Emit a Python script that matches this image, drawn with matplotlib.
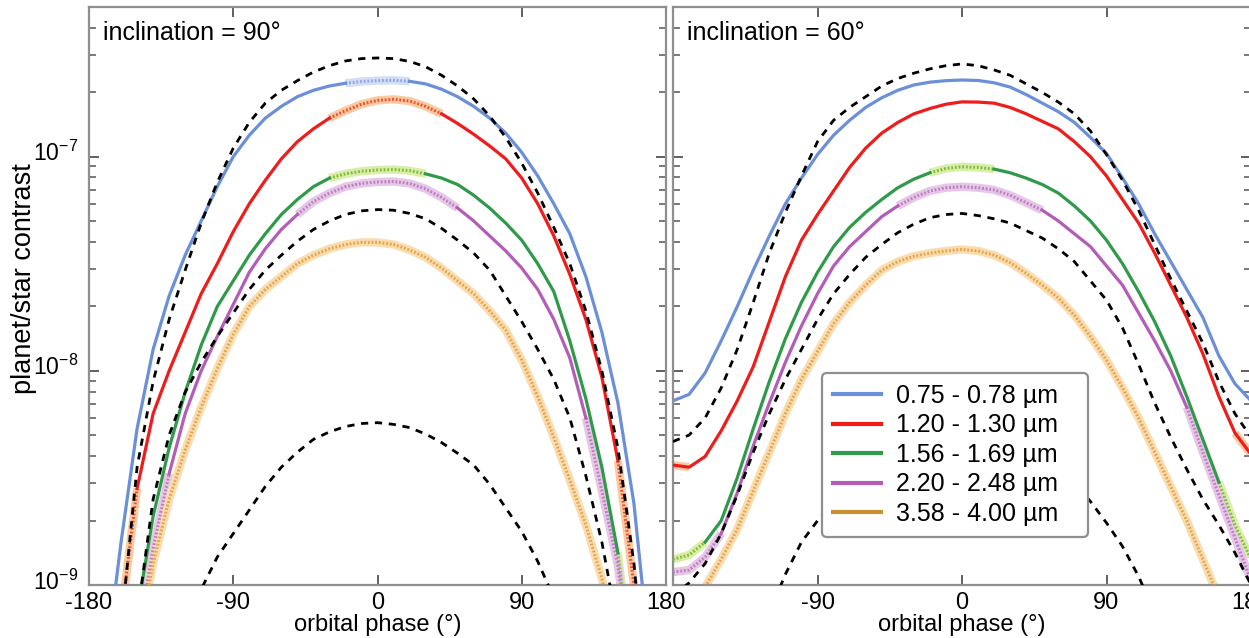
import numpy as np
import matplotlib
matplotlib.use("Agg")
import matplotlib.pyplot as plt
from matplotlib.lines import Line2D
from matplotlib.ticker import LogLocator, FixedLocator
from matplotlib.transforms import ScaledTranslation

plt.rcParams['font.family'] = ['Liberation Sans', 'DejaVu Sans']
plt.rcParams['mathtext.fontset'] = 'custom'
plt.rcParams['mathtext.rm'] = 'Liberation Sans'
plt.rcParams['mathtext.it'] = 'Liberation Sans'

# orbital phase (deg) at which the curves were read
phase = np.array([-180, -170, -160, -150, -140, -130, -120, -110, -100, -90, -80, -70, -60, -50, -40, -30, -20, -10, 0,
                  10, 20, 30, 40, 50, 60, 70, 80, 90, 100, 110, 120, 130, 140, 150, 160, 170, 180])

bands = ['0.75 - 0.78 µm', '1.20 - 1.30 µm', '1.56 - 1.69 µm', '2.20 - 2.48 µm', '3.58 - 4.00 µm']

# log10(planet/star contrast), inclination = 90 deg
i90_b1 = [-11, -9.4, -8.8, -8.27, -7.9, -7.65, -7.46, -7.3, -7.14, -7.0, -6.9, -6.82, -6.765, -6.72, -6.69, -6.67,
          -6.657, -6.649, -6.645, -6.643, -6.648, -6.66, -6.685, -6.72, -6.765, -6.82, -6.89, -6.98, -7.09, -7.22,
          -7.36, -7.56, -7.82, -8.15, -8.62, -9.35, -11]
i90_b2 = [-11, -10.0, -9.15, -8.55, -8.2, -8.0, -7.82, -7.64, -7.5, -7.35, -7.22, -7.11, -7.01, -6.93, -6.87, -6.82,
          -6.785, -6.755, -6.737, -6.732, -6.74, -6.765, -6.8, -6.845, -6.895, -6.95, -7.01, -7.1, -7.22, -7.37,
          -7.55, -7.76, -8.03, -8.42, -9.0, -9.8, -11]
i90_b3 = [-11, -10.3, -9.6, -9.13, -8.68, -8.36, -8.1, -7.88, -7.7, -7.58, -7.46, -7.36, -7.27, -7.2, -7.14, -7.1,
          -7.08, -7.068, -7.062, -7.06, -7.065, -7.08, -7.1, -7.13, -7.18, -7.24, -7.31, -7.39, -7.5, -7.63,
          -7.86, -8.13, -8.45, -8.85, -9.5, -10.3, -11]
i90_b4 = [-11, -10.4, -9.75, -9.27, -8.83, -8.48, -8.2, -8.0, -7.84, -7.69, -7.54, -7.43, -7.34, -7.27, -7.21, -7.17,
          -7.14, -7.125, -7.118, -7.116, -7.125, -7.15, -7.19, -7.24, -7.3, -7.37, -7.44, -7.52, -7.62, -7.76,
          -7.94, -8.22, -8.56, -8.91, -9.5, -10.3, -11]
i90_b5 = [-11, -10.5, -9.85, -9.3, -8.9, -8.6, -8.37, -8.17, -7.99, -7.83, -7.7, -7.62, -7.56, -7.5, -7.46, -7.43,
          -7.41, -7.4, -7.4, -7.41, -7.435, -7.47, -7.52, -7.58, -7.64, -7.72, -7.81, -7.95, -8.12, -8.31,
          -8.51, -8.72, -8.97, -9.3, -9.8, -10.4, -11]
i90_dash_hi = [-11, -10.2, -9.2, -8.45, -8.05, -7.76, -7.53, -7.31, -7.12, -6.96, -6.84, -6.75, -6.69, -6.645, -6.605,
               -6.575, -6.553, -6.542, -6.539, -6.542, -6.555, -6.58, -6.62, -6.67, -6.73, -6.81, -6.91, -7.03,
               -7.17, -7.33, -7.5, -7.72, -8.0, -8.36, -8.9, -9.7, -11]
i90_dash_mid = [-11, -10.4, -9.7, -9.15, -8.6, -8.3, -8.1, -7.96, -7.84, -7.73, -7.62, -7.53, -7.46, -7.395, -7.34,
                -7.3, -7.27, -7.253, -7.247, -7.25, -7.265, -7.29, -7.335, -7.39, -7.45, -7.53, -7.65, -7.77,
                -7.9, -8.04, -8.22, -8.49, -8.8, -9.2, -9.8, -10.5, -11]
i90_dash_lo = [-11, -11, -10.6, -10.2, -9.85, -9.55, -9.25, -9.02, -8.87, -8.76, -8.65, -8.54, -8.45, -8.38, -8.32,
               -8.285, -8.26, -8.246, -8.242, -8.25, -8.265, -8.295, -8.335, -8.385, -8.44, -8.53, -8.64, -8.75,
               -8.89, -9.06, -9.3, -9.55, -9.85, -10.2, -10.6, -11, -11]

# log10(planet/star contrast), inclination = 60 deg
i60_b1 = [-8.14, -8.11, -8.01, -7.86, -7.7, -7.53, -7.37, -7.22, -7.1, -6.99, -6.9, -6.83, -6.77, -6.725, -6.69,
          -6.665, -6.652, -6.645, -6.642, -6.644, -6.655, -6.675, -6.71, -6.75, -6.79, -6.84, -6.91, -6.985,
          -7.1, -7.22, -7.36, -7.49, -7.62, -7.75, -7.93, -8.06, -8.14]
i60_b2 = [-8.44, -8.45, -8.4, -8.28, -8.14, -7.98, -7.77, -7.56, -7.39, -7.27, -7.16, -7.05, -6.96, -6.89, -6.84,
          -6.8, -6.775, -6.755, -6.744, -6.745, -6.75, -6.77, -6.8, -6.835, -6.87, -6.93, -7.0, -7.09, -7.2,
          -7.31, -7.45, -7.6, -7.75, -7.92, -8.12, -8.29, -8.39]
i60_b3 = [-8.88, -8.86, -8.8, -8.7, -8.5, -8.27, -8.05, -7.85, -7.68, -7.54, -7.42, -7.33, -7.26, -7.2, -7.145,
          -7.105, -7.075, -7.055, -7.047, -7.05, -7.058, -7.075, -7.1, -7.13, -7.17, -7.23, -7.3, -7.39, -7.5,
          -7.63, -7.77, -7.93, -8.12, -8.32, -8.52, -8.72, -8.88]
i60_b4 = [-8.94, -8.93, -8.87, -8.76, -8.57, -8.35, -8.15, -7.96, -7.79, -7.64, -7.51, -7.42, -7.35, -7.28, -7.23,
          -7.19, -7.16, -7.145, -7.14, -7.145, -7.155, -7.18, -7.215, -7.25, -7.3, -7.36, -7.42, -7.51, -7.6,
          -7.73, -7.86, -8.0, -8.17, -8.38, -8.58, -8.78, -8.98]
i60_b5 = [-9.3, -9.15, -9.01, -8.88, -8.74, -8.56, -8.38, -8.2, -8.04, -7.91, -7.78, -7.68, -7.6, -7.53, -7.49,
          -7.465, -7.45, -7.44, -7.433, -7.44, -7.46, -7.495, -7.545, -7.6, -7.66, -7.74, -7.84, -7.95, -8.08,
          -8.22, -8.38, -8.54, -8.7, -8.88, -9.06, -9.2, -9.35]
i60_dash_hi = [-8.33, -8.3, -8.22, -8.08, -7.9, -7.68, -7.45, -7.26, -7.09, -6.93, -6.83, -6.77, -6.72, -6.67, -6.635,
               -6.61, -6.59, -6.575, -6.567, -6.575, -6.595, -6.62, -6.66, -6.7, -6.745, -6.8, -6.88, -6.99,
               -7.11, -7.25, -7.41, -7.57, -7.72, -7.87, -8.05, -8.2, -8.31]
i60_dash_mid = [-9.05, -8.99, -8.9, -8.76, -8.58, -8.38, -8.2, -8.04, -7.9, -7.76, -7.64, -7.55, -7.47, -7.41, -7.355,
                -7.315, -7.285, -7.27, -7.265, -7.275, -7.29, -7.31, -7.345, -7.38, -7.43, -7.49, -7.58, -7.67,
                -7.8, -7.97, -8.15, -8.31, -8.46, -8.6, -8.72, -8.85, -9.0]
i60_dash_lo = [-11, -10.5, -10.1, -9.8, -9.55, -9.33, -9.13, -8.95, -8.8, -8.7, -8.61, -8.52, -8.45, -8.39, -8.34,
               -8.31, -8.29, -8.282, -8.28, -8.282, -8.29, -8.31, -8.34, -8.39, -8.45, -8.52, -8.61, -8.71, -8.82,
               -8.96, -9.13, -9.33, -9.55, -9.8, -10.1, -10.5, -11]

colors = ['#6b8fd8', '#f01c1c', '#2f9a4a', '#b45db8', '#c8902e']
dot_colors = ['#8fa8e6', '#f0502a', '#7cbf3a', '#c27cc6', '#e8a448']
halo_colors = ['#d3ddf5', '#f9cba4', '#dcedaa', '#e5c8e6', '#f9ddb0']

# phase ranges drawn dotted (with a light halo) for each band
dotted_i90 = [[(-20, 20)],
              [(-180, -150), (-30, 40), (150, 180)],
              [(-30, 30), (150, 180)],
              [(-180, -130), (-50, 50), (130, 180)],
              [(-180, 180)]]
dotted_i60 = [[],
              [],
              [(-180, -160), (-20, 20), (160, 180)],
              [(-180, -150), (-40, 50), (140, 180)],
              [(-180, 180)]]
halo_i60 = [[], [(-180, -170), (170, 180)], [], [], []]


def in_ranges(ranges):
    inside = np.zeros(len(phase), bool)
    closed = np.zeros(len(phase), bool)
    for lo, hi in ranges:
        inside |= (phase > lo) & (phase < hi)
        closed |= (phase >= lo) & (phase <= hi)
    return inside, closed


def draw_band(ax, y, i, dotted, halo):
    inside, closed = in_ranges(dotted)
    _, hclosed = in_ranges(halo)
    dot = np.where(closed, y, np.nan)
    solid = np.where(inside, np.nan, y)
    ax.plot(phase, np.where(closed | hclosed, y, np.nan), color=halo_colors[i], lw=6,
            solid_capstyle='butt', zorder=2)
    ax.plot(phase, dot, color=dot_colors[i], lw=2.2, ls=(0, (0.6, 0.6)), zorder=3)
    ax.plot(phase, solid, color=colors[i], lw=2.3, zorder=4)


def draw_panel(ax, curves, dashed, dotted, halo, title):
    for y in dashed:
        ax.plot(phase, 10 ** np.array(y), color='black', lw=2.0, ls=(0, (2.6, 2.4)), zorder=5)
    for i, y in enumerate(curves):
        draw_band(ax, 10 ** np.array(y), i, dotted[i], halo[i])
    ax.set_yscale('log')
    ax.set_xlim(-180, 180)
    ax.set_ylim(1e-9, 5e-7)
    ax.xaxis.set_major_locator(FixedLocator([-180, -90, 0, 90, 180]))
    ax.yaxis.set_minor_locator(LogLocator(base=10, subs=np.arange(2, 10)))
    ax.tick_params(which='both', direction='in', top=True, right=True, colors='#555555',
                   labelcolor='black', labelsize=17)
    ax.tick_params(which='major', length=7.5, width=1.3, pad=5)
    ax.tick_params(which='minor', length=5, width=1.1)
    for s in ax.spines.values():
        s.set_color('#8f8f8f')
        s.set_linewidth(1.6)
    ax.text(0.024, 0.975, title, transform=ax.transAxes, ha='left', va='top', fontsize=18)
    ax.set_xlabel('orbital phase (°)', fontsize=17, labelpad=0)


W, H = 1249, 638
fig = plt.figure(figsize=(W / 100, H / 100), dpi=100)
ax1 = fig.add_axes([89 / W, 53 / H, 577 / W, 578 / H])
ax2 = fig.add_axes([673 / W, 53 / H, 578 / W, 578 / H])

draw_panel(ax1, [i90_b1, i90_b2, i90_b3, i90_b4, i90_b5], [i90_dash_hi, i90_dash_mid, i90_dash_lo],
           dotted_i90, [[]] * 5, 'inclination = 90°')
draw_panel(ax2, [i60_b1, i60_b2, i60_b3, i60_b4, i60_b5], [i60_dash_hi, i60_dash_mid, i60_dash_lo],
           dotted_i60, halo_i60, 'inclination = 60°')

ax1.set_xticklabels(['-180', '-90', '0', '90', '180'])
ax2.set_xticklabels(['', '-90', '0', '90', '180'])
ax2.tick_params(labelleft=False)
ax1.set_yticks([1e-9, 1e-8, 1e-7])
ax1.set_yticklabels([r'$10^{-9}$', r'$10^{-8}$', r'$10^{-7}$'])
ax1.tick_params(axis='y', which='major', labelsize=16.5, pad=8)
for lab in ax1.get_yticklabels():
    lab.set_transform(lab.get_transform() + ScaledTranslation(0, 4 / 72, fig.dpi_scale_trans))
ax1.set_ylabel('planet/star contrast', fontsize=19.5)
ax1.yaxis.set_label_coords(-0.09, 0.53)

handles = [Line2D([], [], color=c, lw=3) for c in colors]
leg = ax2.legend(handles, bands, loc='lower left', bbox_to_anchor=(0.258, 0.083, 0.46, 0.289),
                 mode='expand', fontsize=18, handlelength=1.9, handletextpad=0.6, labelspacing=0.22,
                 borderpad=0.45, borderaxespad=0, fancybox=True, framealpha=1, edgecolor='#8f8f8f')
leg.get_frame().set_linewidth(1.6)

fig.savefig('out.png', dpi=100)
